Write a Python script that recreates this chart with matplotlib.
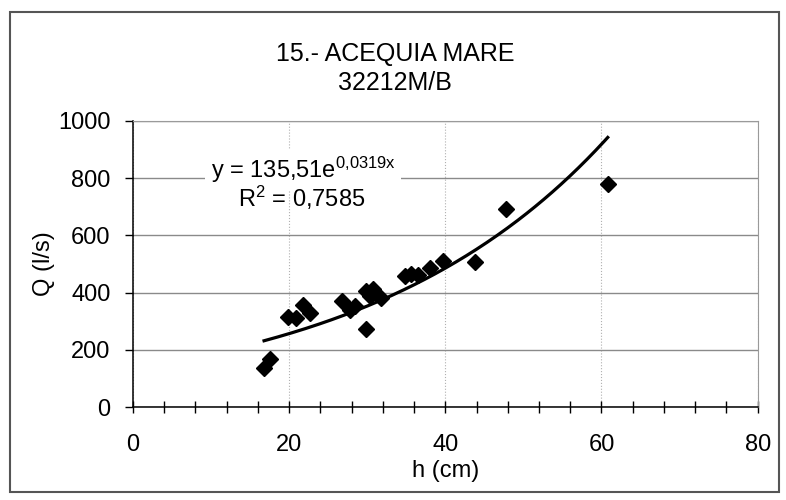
import matplotlib.pyplot as plt
import numpy as np
from matplotlib.patches import Rectangle
from matplotlib.ticker import MultipleLocator

plt.rcParams['font.family'] = ['Liberation Sans', 'DejaVu Sans']
plt.rcParams['mathtext.default'] = 'regular'

# measured points (h in cm, Q in l/s)
h = [16.8, 17.6, 19.9, 20.9, 21.8, 22.7, 26.8, 27.8, 28.5, 29.8, 29.9,
     30.4, 30.8, 31.8, 34.9, 35.6, 36.5, 38.0, 39.7, 43.8, 47.8, 60.8]
Q = [138, 168, 314, 310, 357, 330, 372, 338, 352, 272, 405,
     388, 412, 380, 458, 466, 462, 487, 512, 507, 694, 781]

# exponential trend line y = a*e^(b*x)
a = 135.51
b = 0.0319
r2 = 0.7585

fig = plt.figure(figsize=(7.86, 5.0), dpi=100)
ax = fig.add_axes([0.169, 0.186, 0.795, 0.572])

ax.set_xlim(0, 80)
ax.set_ylim(0, 1000)
ax.xaxis.set_major_locator(MultipleLocator(20))
ax.xaxis.set_minor_locator(MultipleLocator(4))
ax.yaxis.set_major_locator(MultipleLocator(200))

ax.grid(axis='y', color='#8a8a8a', linewidth=1.0)
ax.grid(axis='x', color='#b0b0b0', linewidth=0.8, linestyle=':')

xt = np.linspace(min(h), max(h), 200)
ax.plot(xt, a * np.exp(b * xt), color='black', linewidth=2.3, zorder=3)
ax.plot(h, Q, linestyle='none', marker='D', markersize=8.5,
        color='black', zorder=4)

ax.tick_params(axis='y', labelsize=17, direction='out', length=6,
               width=1.0, pad=10)
ax.tick_params(axis='x', which='both', labelsize=17, direction='inout',
               length=9, width=1.0, pad=15)
for s in ['left', 'bottom']:
    ax.spines[s].set_color('black')
    ax.spines[s].set_linewidth(1.1)
for s in ['top', 'right']:
    ax.spines[s].set_color('#9a9a9a')
    ax.spines[s].set_linewidth(0.8)

ax.set_xlabel('h (cm)', fontsize=17, labelpad=3)
ax.set_ylabel('Q (l/s)', fontsize=17, labelpad=2)

eq = 'y = %se$^{%s x}$' % (str(a).replace('.', ','), str(b).replace('.', '{,}'))
ax.text(21.8, 830, eq, fontsize=17, ha='center', va='center',
        bbox=dict(facecolor='white', edgecolor='none', pad=4), zorder=5)
ax.text(21.6, 730, 'R$^2$ = ' + str(r2).replace('.', ','), fontsize=17,
        ha='center', va='center', zorder=5)

fig.text(0.503, 0.893, '15.- ACEQUIA MARE', fontsize=18, ha='center', va='center')
fig.text(0.503, 0.834, '32212M/B', fontsize=18, ha='center', va='center')

fig.patches.append(Rectangle((0.0127, 0.016), 0.979, 0.96, transform=fig.transFigure,
                             fill=False, edgecolor='#555555', linewidth=1.5))

fig.savefig('out.png', dpi=100)
